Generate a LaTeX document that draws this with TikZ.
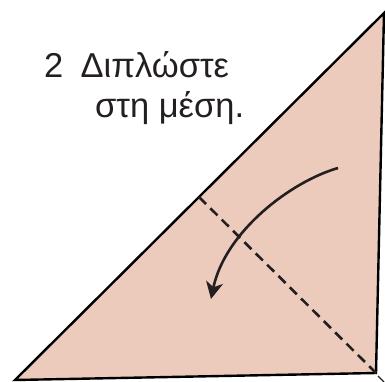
\documentclass[tikz,border=0pt]{standalone}
\usepackage{fontspec}
\setmainfont{Liberation Sans}
\usetikzlibrary{arrows.meta}
\definecolor{paper}{RGB}{236,203,189}
\definecolor{ink}{RGB}{35,31,32}
\tikzset{
  sheet/.style={fill=paper, draw=black, line width=2.4pt, line join=miter},
  foldline/.style={draw=ink, line width=2.6pt, dash pattern=on 10pt off 6pt},
  movearrow/.style={draw=ink, line width=2.6pt, -{Stealth[length=17pt,width=17pt,inset=5pt]}},
  label/.style={font=\fontsize{34.5}{40}\selectfont, text=ink, inner sep=0pt}
}
\begin{document}
\begin{tikzpicture}[x=1pt,y=-1pt]
\useasboundingbox (0,0) rectangle (385,382);
\coordinate (tr) at (384,13);
\coordinate (bl) at (15,380);
\coordinate (br) at (376,373);
\coordinate (ds) at (199,197);
\coordinate (as) at (338,168);
\coordinate (ae) at (211,299);
\coordinate (k1) at (378,376);
\coordinate (k2) at (384,382);
\path[sheet] (bl) -- (tr) -- (br) -- cycle;
\draw[foldline] (ds) -- (br);
\draw[movearrow] (as) .. controls (290,182) and (225,232) .. (ae);
\draw[ink, line width=1.2pt] (k1) -- (k2);
\node[label, anchor=base west] (t1) at (44,78) {2\hspace{0.5em}Διπλώστε};
\node[label, anchor=base west] (t2) at (95,118) {στη μέση.};
\end{tikzpicture}
\end{document}
